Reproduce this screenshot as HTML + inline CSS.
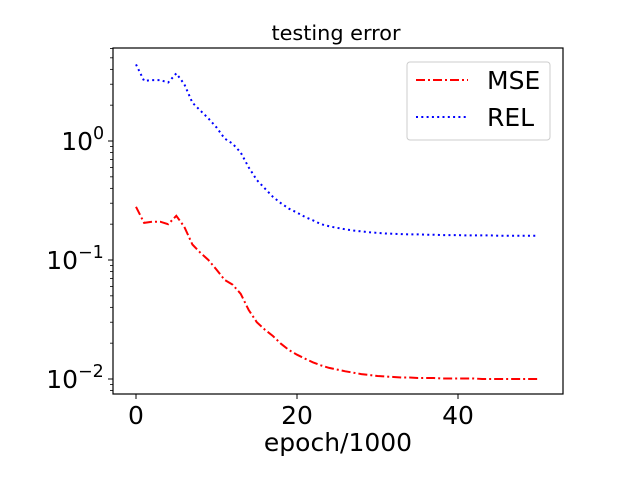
<!DOCTYPE html>
<html><head><meta charset="utf-8"><style>
body{margin:0;background:#fff}
svg text{font-family:"DejaVu Sans","Liberation Sans",sans-serif;fill:#000}
</style></head><body>
<svg id="chart" width="640" height="480" viewBox="0 0 640 480" xmlns="http://www.w3.org/2000/svg">
<rect width="640" height="480" fill="#fff"/>
<text x="336" y="40" font-size="20.8" text-anchor="middle">testing error</text>
<g id="ticks"></g>
<path id="mse" fill="none" stroke="#ff0000" stroke-width="2" stroke-dasharray="9,3,2,3"/>
<path id="rel" fill="none" stroke="#0000ff" stroke-width="2" stroke-dasharray="2,3.3"/>
<rect x="113" y="48" width="450" height="346" fill="none" stroke="#000" stroke-width="1.2"/>
<text x="338" y="451" font-size="25" text-anchor="middle">epoch/1000</text>
<g>
<rect x="407" y="62" width="143" height="78" rx="3" fill="#fff" stroke="#ccc"/>
<line x1="416" y1="80" x2="468" y2="80" stroke="#ff0000" stroke-width="2" stroke-dasharray="9,3,2,3"/>
<text x="487" y="89" font-size="25">MSE</text>
<line x1="416" y1="117" x2="468" y2="117" stroke="#0000ff" stroke-width="2" stroke-dasharray="2,3.3"/>
<text x="487" y="126" font-size="25">REL</text>
</g>
</svg>
<script>
const epochs=[0,1,2,3,4,5,6,7,8,9,10,11,12,13,14,15,16,17,18,19,20,21,22,23,24,25,26,27,28,29,30,31,32,33,34,35,36,37,38,39,40,41,42,43,44,45,46,47,48,49,50];
const relValues=[4.4,3.2,3.25,3.25,3.1,3.7,3.0,2.1,1.8,1.55,1.3,1.05,0.95,0.8,0.6,0.47,0.4,0.34,0.3,0.27,0.25,0.23,0.215,0.2,0.192,0.186,0.181,0.177,0.174,0.171,0.169,0.167,0.166,0.165,0.164,0.164,0.163,0.163,0.162,0.162,0.162,0.161,0.161,0.161,0.161,0.16,0.16,0.16,0.16,0.16,0.16];
const mseValues=[0.28,0.205,0.21,0.21,0.2,0.235,0.19,0.135,0.115,0.1,0.083,0.068,0.062,0.052,0.038,0.03,0.026,0.023,0.0198,0.0175,0.016,0.0148,0.0138,0.013,0.0124,0.012,0.0116,0.0113,0.011,0.0108,0.0106,0.0105,0.0104,0.0103,0.0103,0.0102,0.0102,0.0102,0.0101,0.0101,0.0101,0.0101,0.0101,0.01,0.01,0.01,0.01,0.01,0.01,0.01,0.01];
const xTicks=[0,20,40];
const yDecades=[0,-1,-2];
const yDecadeLabels=["10","10","10"];
const yDecadeExps=["0","\u22121","\u22122"];
function xs(v){return 136+v*8.05;}
function ys(v){return 141-Math.log10(v)*119;}
const NS="http://www.w3.org/2000/svg";
function line(d,vals){return vals.map((v,i)=>(i?"L":"M")+xs(d[i]).toFixed(1)+","+ys(v).toFixed(1)).join("");}
document.getElementById('mse').setAttribute('d',line(epochs,mseValues));
document.getElementById('rel').setAttribute('d',line(epochs,relValues));
const g=document.getElementById('ticks');
xTicks.forEach(t=>{
 const l=document.createElementNS(NS,'line');
 
 
 l.setAttribute('x1',xs(t));l.setAttribute('x2',xs(t));l.setAttribute('y1',394);l.setAttribute('y2',399);l.setAttribute('stroke','#000');
 g.appendChild(l);
 const tx=document.createElementNS(NS,'text');
 
 
 tx.setAttribute('x',xs(t));tx.setAttribute('y',424);tx.setAttribute('font-size','25');tx.setAttribute('text-anchor','middle');
 tx.textContent=t;g.appendChild(tx);
});
yDecades.forEach((e,i)=>{
 const y=ys(Math.pow(10,e));
 const l=document.createElementNS(NS,'line');
 
 
 l.setAttribute('x1',108);l.setAttribute('x2',113);l.setAttribute('y1',y);l.setAttribute('y2',y);l.setAttribute('stroke','#000');
 g.appendChild(l);
 const tx=document.createElementNS(NS,'text');
 
 
 tx.setAttribute('x',e===0?93:78);tx.setAttribute('y',y+9);tx.setAttribute('font-size','25');tx.setAttribute('text-anchor','end');
 tx.textContent=yDecadeLabels[i];g.appendChild(tx);
 const ex=document.createElementNS(NS,'text');
 
 
 ex.setAttribute('x',e===0?93:78);ex.setAttribute('y',y-2);ex.setAttribute('font-size','17.5');
 ex.textContent=yDecadeExps[i];g.appendChild(ex);
});
[-3,-2,-1,0].forEach(d=>{for(let m=2;m<=9;m++){
 const v=m*Math.pow(10,d);const y=ys(v);
 if(y<48||y>394)continue;
 const l=document.createElementNS(NS,'line');
 
 
 l.setAttribute('x1',110);l.setAttribute('x2',113);l.setAttribute('y1',y);l.setAttribute('y2',y);l.setAttribute('stroke','#000');l.setAttribute('stroke-width','0.8');
 g.appendChild(l);
}});
</script>
</body></html>
